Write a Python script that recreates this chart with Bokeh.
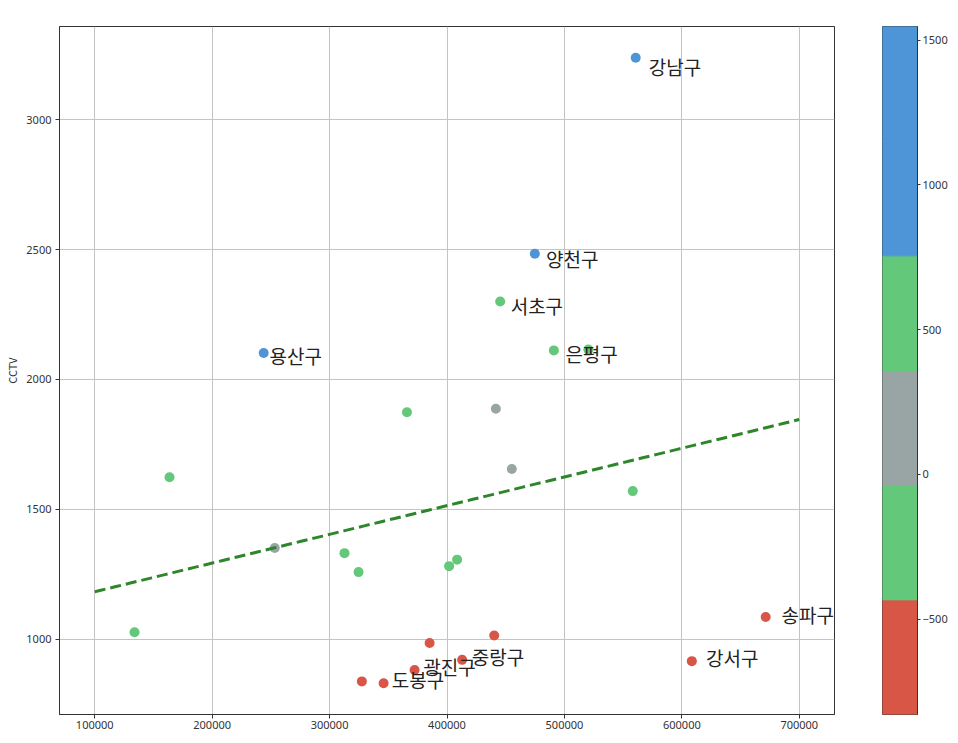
import numpy as np
from bokeh.plotting import figure
from bokeh.models import (ColumnDataSource, LinearColorMapper, FixedTicker,
                          BasicTickFormatter, Range1d, Label)
from bokeh.layouts import row
from bokeh.transform import transform
from bokeh.core.properties import value
from bokeh.embed import file_html
from bokeh.resources import INLINE

# ---- data ----
gu_names = ["강남구", "양천구", "서초구", "은평구", "관악구", "용산구", "동대문구",
            "구로구", "성북구", "노원구", "종로구", "금천구", "성동구", "서대문구",
            "영등포구", "동작구", "중구", "마포구", "강동구", "중랑구", "광진구",
            "강북구", "도봉구", "강서구", "송파구"]
population = [560700, 474800, 445300, 491000, 520400, 243900, 365900,
              441600, 455200, 558200, 163700, 253300, 312700, 324700,
              401800, 408600, 133900, 385200, 440200, 412900, 372400,
              327500, 346000, 608500, 671400]
cctv = [3239, 2484, 2300, 2112, 2115, 2102, 1874,
        1887, 1655, 1570, 1623, 1351, 1331, 1258,
        1281, 1306, 1026, 985, 1014, 920, 881,
        837, 830, 915, 1085]
labeled = ["강남구", "양천구", "서초구", "은평구", "용산구",
           "송파구", "강서구", "중랑구", "광진구", "도봉구"]
fit_x = [100000, 700000]
x_ticks = [100000, 200000, 300000, 400000, 500000, 600000, 700000]
y_ticks = [1000, 1500, 2000, 2500, 3000]
cbar_ticks = [-500, 0, 500, 1000, 1500]
palette = ["#d75646", "#64c87a", "#98a5a4", "#64c87a", "#4e95d7", "#4e95d7"]

# ---- derived ----
pop = np.array(population, dtype=float)
cc = np.array(cctv, dtype=float)
f = np.poly1d(np.polyfit(pop, cc, 1))
resid = cc - f(pop)
fx = np.linspace(fit_x[0], fit_x[1], 100)
fy = f(fx)

xa = np.concatenate([pop, fx])
ya = np.concatenate([cc, fy])
xpad = 0.05 * (xa.max() - xa.min())
ypad = 0.05 * (ya.max() - ya.min())
x_lo, x_hi = xa.min() - xpad, xa.max() + xpad
y_lo, y_hi = ya.min() - ypad, ya.max() + ypad

mapper = LinearColorMapper(palette=palette, low=resid.min(), high=resid.max())
src = ColumnDataSource(dict(x=pop, y=cc, r=resid, name=gu_names))

mask = [n in labeled for n in gu_names]
lab = ColumnDataSource(dict(
    x=pop[mask] * 1.02, y=cc[mask] * 0.98,
    t=[n for n, m in zip(gu_names, mask) if m]))

TICK_FONT = "Noto Sans"
KR_FONT = "Noto Sans CJK KR"
INK = "#333333"

p = figure(width=882, height=743,
           x_range=Range1d(x_lo, x_hi), y_range=Range1d(y_lo, y_hi),
           output_backend="svg", toolbar_location=None,
           min_border_top=26, min_border_left=59, min_border_right=48,
           min_border_bottom=29)
p.outline_line_color = INK
p.outline_line_width = 1
p.background_fill_color = "white"
p.border_fill_color = "white"

p.xaxis.ticker = FixedTicker(ticks=x_ticks)
p.yaxis.ticker = FixedTicker(ticks=y_ticks)
p.xaxis.formatter = BasicTickFormatter(use_scientific=False)
p.yaxis.formatter = BasicTickFormatter(use_scientific=False)
for ax in (p.xaxis, p.yaxis):
    ax.major_tick_in = 0
    ax.major_tick_out = 4
    ax.minor_tick_line_color = None
    ax.major_tick_line_color = INK
    ax.axis_line_color = INK
    ax.major_label_text_font = TICK_FONT
    ax.major_label_text_font_size = "11px"
    ax.major_label_text_color = INK
    ax.axis_label_text_font = KR_FONT
    ax.axis_label_text_font_size = "11px"
    ax.axis_label_text_font_style = "normal"
    ax.axis_label_text_color = INK
p.yaxis.axis_label = "CCTV"
p.xaxis.major_label_standoff = 2
p.yaxis.major_label_standoff = 4
p.yaxis.axis_label_standoff = 3

# x axis title at the very bottom edge of the window
p.add_layout(Label(x=(x_lo + x_hi) / 2, y=y_lo, y_offset=-17,
                   text="인구수", text_align="center", text_baseline="top",
                   text_font=KR_FONT, text_font_size="11px",
                   text_color=INK))

p.grid.grid_line_color = "#c4c4c4"
p.grid.grid_line_width = 1

p.scatter("x", "y", source=src, size=10, line_color=None,
          fill_color=transform("r", mapper))
p.line(fx, fy, line_width=3, line_dash="11 5", line_color="#2e862a")
p.text("x", "y", text="t", source=lab, text_font=value(KR_FONT),
       text_font_size="19px", text_baseline="alphabetic", text_align="left",
       y_offset=-8, text_color="#222222")

# ---- colour bar ----
edges = np.linspace(resid.min(), resid.max(), len(palette) + 1)
cb = figure(width=73, height=743,
            x_range=Range1d(0, 1),
            y_range=Range1d(resid.min(), resid.max()),
            x_axis_location=None, y_axis_location="right",
            output_backend="svg", toolbar_location=None,
            min_border_top=26, min_border_left=0, min_border_right=38,
            min_border_bottom=29)
cb.grid.visible = False
cb.outline_line_color = INK
cb.background_fill_color = "white"
cb.quad(left=0, right=1, bottom=edges[:-1], top=edges[1:],
        fill_color=palette, line_color=palette, line_width=1)
cb.yaxis.ticker = FixedTicker(ticks=cbar_ticks)
cb.yaxis.formatter = BasicTickFormatter(use_scientific=False)
cb.yaxis.major_tick_in = 0
cb.yaxis.major_tick_out = 3
cb.yaxis.minor_tick_line_color = None
cb.yaxis.major_tick_line_color = INK
cb.yaxis.axis_line_color = INK
cb.yaxis.major_label_text_font = TICK_FONT
cb.yaxis.major_label_text_font_size = "11px"
cb.yaxis.major_label_text_color = INK
cb.yaxis.major_label_standoff = 2

layout = row(p, cb)

open("out.html", "w").write(file_html(layout, INLINE))
